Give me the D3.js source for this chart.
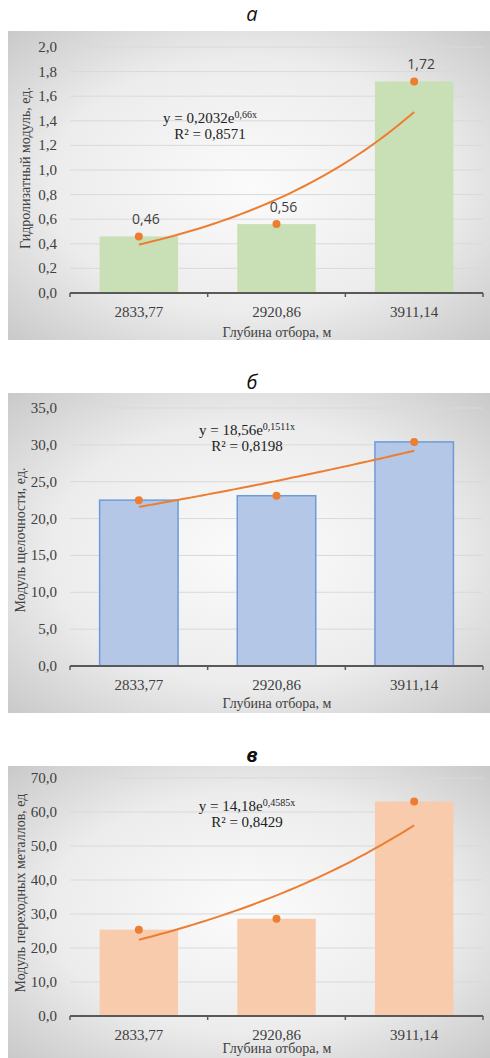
<!DOCTYPE html>
<html>
<head>
<meta charset="utf-8">
<script src="https://cdn.jsdelivr.net/npm/d3@7"></script>
<style>
  body { margin: 0; background: #fff; }
  svg { display: block; }
</style>
</head>
<body>
<svg id="chart" width="490" height="1058"></svg>
<script>
// categories (depths)
const depths = ["2833,77", "2920,86", "3911,14"];

// series values
const hydrolyzateValues = [0.46, 0.56, 1.72];
const alkalinityValues = [22.5, 23.1, 30.4];
const transitionValues = [25.4, 28.6, 63.1];

// trend equations as printed on the chart: y = a * e^(b*x)
const hydrolyzateTrend = [0.2032, 0.66];
const alkalinityTrend = [18.56, 0.1511];
const transitionTrend = [14.18, 0.4585];

// tick labels
const hydrolyzateTicks = [0, 0.2, 0.4, 0.6, 0.8, 1.0, 1.2, 1.4, 1.6, 1.8, 2.0];
const alkalinityTicks = [0, 5, 10, 15, 20, 25, 30, 35];
const transitionTicks = [0, 10, 20, 30, 40, 50, 60, 70];

const svg = d3.select("#chart");
const defs = svg.append("defs");
const grad = defs.append("radialGradient")
    .attr("id", "bg")
    .attr("cx", "50%").attr("cy", "50%").attr("r", "75%");
grad.append("stop").attr("offset", "0%").attr("stop-color", "#fbfbfb");
grad.append("stop").attr("offset", "55%").attr("stop-color", "#ececec");
grad.append("stop").attr("offset", "100%").attr("stop-color", "#c4c4c4");

const comma = d => d.toFixed(1).replace(".", ",");

function draw_panel(p) {
    const g = svg.append("g");

    g.append("text")
        .attr("x", 252).attr("y", p.titleY)
        .attr("text-anchor", "middle")
        .attr("font-family", "Open Sans")
        .attr("font-style", "italic")
        .attr("font-weight", p.titleBold ? "bold" : "normal")
        .attr("font-size", "20px")
        .attr("fill", "#111")
        .text(p.title);

    g.append("rect")
        .attr("x", 8).attr("y", p.boxTop)
        .attr("width", 482).attr("height", p.boxBottom - p.boxTop)
        .attr("fill", "url(#bg)");

    const y = d3.scaleLinear().domain([0, p.yMax]).range([p.y0, p.yTop]);
    const xCat = d3.scaleBand().domain(depths).range([70, 483]).padding(0);
    const xBar = d3.scaleBand().domain(depths).range([70, 483])
        .paddingInner(0.43).paddingOuter(0.215);
    const xMid = d => xCat(d) + xCat.bandwidth() / 2;

    // gridlines
    g.append("g").selectAll("line")
        .data(p.ticks.filter(t => t > 0))
        .join("line")
        .attr("x1", 70).attr("x2", 483)
        .attr("y1", d => y(d)).attr("y2", d => y(d))
        .attr("stroke", "#d9d9d9").attr("stroke-width", 1);

    // y tick labels
    g.append("g").selectAll("text")
        .data(p.ticks)
        .join("text")
        .attr("x", 57).attr("y", d => y(d) + 5)
        .attr("text-anchor", "end")
        .attr("font-family", "Liberation Serif")
        .attr("font-size", "15px")
        .attr("fill", "#404040")
        .text(comma);

    // bars
    g.append("g").selectAll("rect")
        .data(p.values)
        .join("rect")
        .attr("x", (d, i) => xBar(depths[i]))
        .attr("width", xBar.bandwidth())
        .attr("y", d => y(d))
        .attr("height", d => p.y0 - y(d))
        .attr("fill", p.barFill)
        .attr("stroke", p.barStroke)
        .attr("stroke-width", p.barStroke === "none" ? 0 : 1.5);

    // x axis
    const xAxis = d3.axisBottom(xCat).tickSize(0).tickFormat("");
    const ax = g.append("g")
        .attr("transform", `translate(0,${p.y0})`)
        .call(xAxis);
    ax.select(".domain").remove();
    ax.append("line")
        .attr("x1", 70).attr("x2", 483)
        .attr("stroke", "#595959").attr("stroke-width", 2);
    ax.selectAll(".tb")
        .data(depths.concat([null]))
        .join("line")
        .attr("class", "tb")
        .attr("x1", (d, i) => i < depths.length ? xCat(d) : 483)
        .attr("x2", (d, i) => i < depths.length ? xCat(d) : 483)
        .attr("y1", 0).attr("y2", 4)
        .attr("stroke", "#595959").attr("stroke-width", 1.5);

    g.append("g").selectAll("text")
        .data(depths)
        .join("text")
        .attr("x", d => xMid(d))
        .attr("y", p.y0 + 24)
        .attr("text-anchor", "middle")
        .attr("font-family", "Liberation Serif")
        .attr("font-size", "15px")
        .attr("fill", "#404040")
        .text(d => d);

    g.append("text")
        .attr("x", 277).attr("y", p.xTitleY)
        .attr("text-anchor", "middle")
        .attr("font-family", "Liberation Serif")
        .attr("font-size", "14px")
        .attr("fill", "#404040")
        .text("Глубина отбора, м");

    g.append("text")
        .attr("transform", `translate(${p.yTitleX},${p.yTitleY}) rotate(-90)`)
        .attr("text-anchor", "middle")
        .attr("font-family", "Liberation Serif")
        .attr("font-size", "14px")
        .attr("fill", "#404040")
        .text(p.yTitle);

    // exponential trendline from the printed equation, x = 1..3
    const xs = d3.range(1, 3.001, 0.05);
    const xLin = d3.scaleLinear().domain([1, 3]).range([xMid(depths[0]), xMid(depths[2])]);
    const line = d3.line()
        .x(d => xLin(d))
        .y(d => y(p.trend[0] * Math.exp(p.trend[1] * d)))
        .curve(d3.curveMonotoneX);
    g.append("path")
        .datum(xs)
        .attr("d", line)
        .attr("fill", "none")
        .attr("stroke", "#ED7D31")
        .attr("stroke-width", 2);

    // markers
    g.append("g").selectAll("circle")
        .data(p.values)
        .join("circle")
        .attr("cx", (d, i) => xMid(depths[i]))
        .attr("cy", d => y(d))
        .attr("r", 4)
        .attr("fill", "#ED7D31");

    if (p.labels) {
        g.append("g").selectAll("text")
            .data(p.values)
            .join("text")
            .attr("x", (d, i) => xMid(depths[i]) + 7)
            .attr("y", d => y(d) - 12)
            .attr("text-anchor", "middle")
            .attr("font-family", "Open Sans")
            .attr("font-size", "14px")
            .attr("fill", "#404040")
            .text(d => d.toFixed(2).replace(".", ","));
    }

    // equation
    const eq = g.append("text")
        .attr("x", p.eqX).attr("y", p.eqY)
        .attr("text-anchor", "middle")
        .attr("font-family", "Liberation Serif")
        .attr("font-size", "15px")
        .attr("fill", "#222");
    eq.append("tspan").text("y = " + String(p.trend[0]).replace(".", ",") + "e");
    eq.append("tspan")
        .attr("dy", -5).attr("font-size", "10px")
        .text(String(p.trend[1]).replace(".", ",") + "x");
    g.append("text")
        .attr("x", p.eqX).attr("y", p.eqY + 16)
        .attr("text-anchor", "middle")
        .attr("font-family", "Liberation Serif")
        .attr("font-size", "15px")
        .attr("fill", "#222")
        .text("R² = " + p.r2);
}

draw_panel({
    title: "а", titleY: 21, titleBold: false,
    boxTop: 31, boxBottom: 340,
    y0: 293, yTop: 47, yMax: 2.0, ticks: hydrolyzateTicks,
    values: hydrolyzateValues, trend: hydrolyzateTrend, r2: "0,8571",
    barFill: "#C9E0B6", barStroke: "none", labels: true,
    xTitleY: 337, yTitle: "Гидролизатный модуль, ед.", yTitleX: 30, yTitleY: 168,
    eqX: 210, eqY: 123
});

draw_panel({
    title: "б", titleY: 389, titleBold: false,
    boxTop: 393, boxBottom: 713,
    y0: 666, yTop: 408, yMax: 35, ticks: alkalinityTicks,
    values: alkalinityValues, trend: alkalinityTrend, r2: "0,8198",
    barFill: "#B4C7E7", barStroke: "#6E9BD6", labels: false,
    xTitleY: 708, yTitle: "Модуль щелочности, ед.", yTitleX: 25, yTitleY: 540,
    eqX: 247, eqY: 435
});

draw_panel({
    title: "в", titleY: 762, titleBold: true,
    boxTop: 766, boxBottom: 1058,
    y0: 1016, yTop: 778, yMax: 70, ticks: transitionTicks,
    values: transitionValues, trend: transitionTrend, r2: "0,8429",
    barFill: "#F8CBAD", barStroke: "none", labels: false,
    xTitleY: 1053, yTitle: "Модуль переходных металлов, ед", yTitleX: 25, yTitleY: 893,
    eqX: 247, eqY: 811
});
</script>
</body>
</html>
